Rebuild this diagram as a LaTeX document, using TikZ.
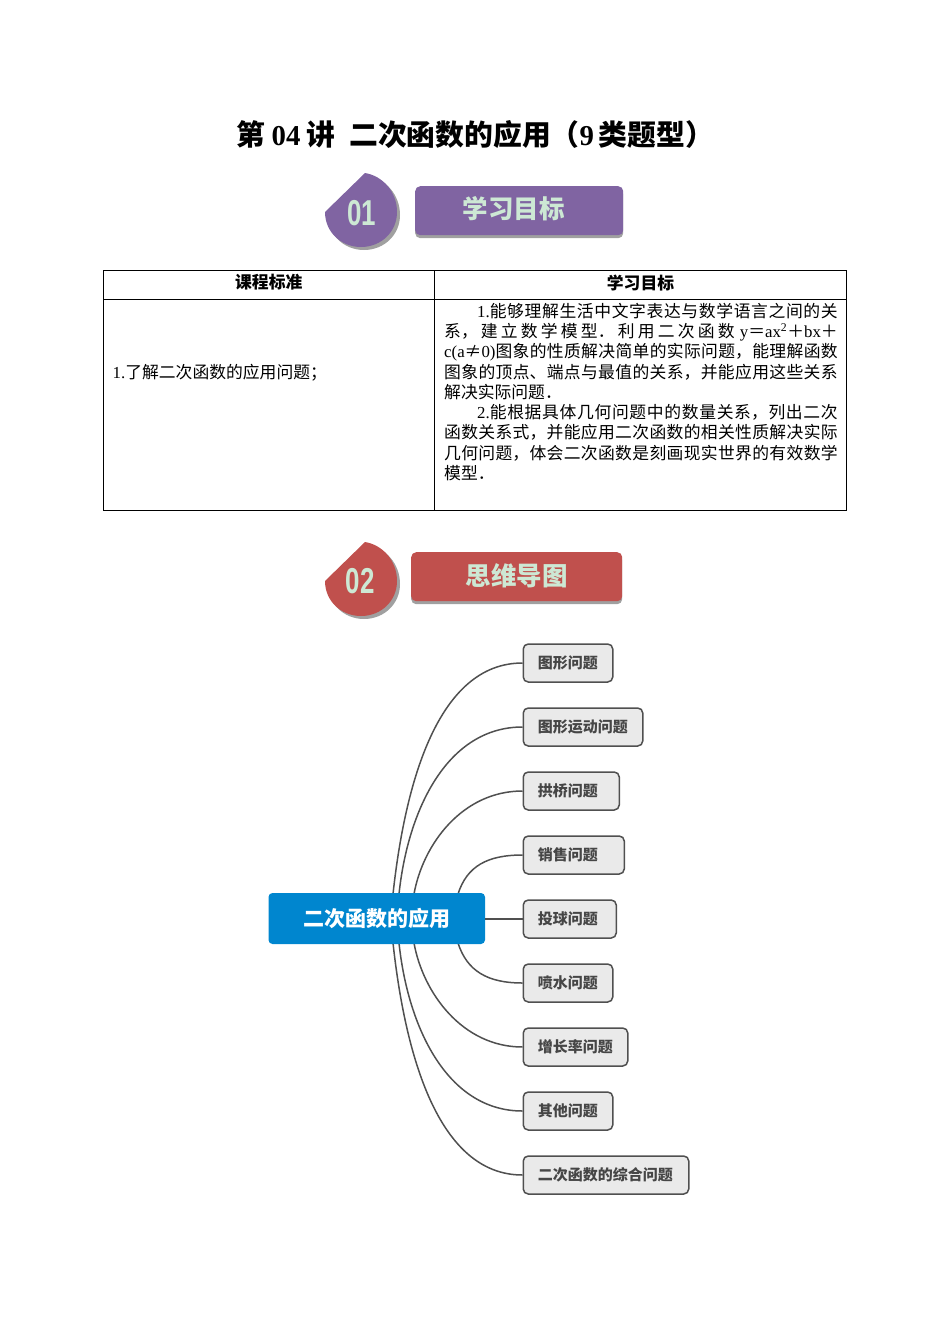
\documentclass[tikz,border=0pt]{standalone}
\usepackage{fontspec}
\usepackage{xcolor}
\usetikzlibrary{positioning, shadows}
\setmainfont{Noto Sans CJK SC}
\newfontfamily\latinfont{Liberation Serif}
\newfontfamily\numfont{Liberation Sans}
\XeTeXlinebreaklocale "zh"
\XeTeXlinebreakskip=0pt plus 4pt
\newcommand{\la}[1]{{\latinfont #1}}
\definecolor{goalpurple}{RGB}{128,100,162}
\definecolor{mapred}{RGB}{192,80,77}
\definecolor{paleink}{RGB}{205,232,212}
\definecolor{shadegray}{RGB}{160,160,160}
\definecolor{rootblue}{RGB}{0,134,207}
\definecolor{topicfill}{RGB}{234,234,234}
\definecolor{topicline}{RGB}{80,80,80}
\definecolor{topicink}{RGB}{70,70,70}
\tikzset{
  cell/.style={rectangle, draw=black, line width=0.9pt, inner sep=0pt, outer sep=0pt,
    anchor=north west},
  headcell/.style={cell, minimum height=29.5pt, font=\fontsize{16.8}{20}\selectfont\bfseries},
  bodytext/.style={font=\fontsize{16.8}{20.25}\selectfont, inner sep=0pt},
  badge/.style={line width=0pt, drop shadow={shadow xshift=3pt, shadow yshift=-3pt,
    opacity=1, fill=shadegray}},
  badgenum/.style={font=\fontsize{36}{36}\selectfont\bfseries\numfont, text=paleink, inner sep=0pt},
  banner/.style={rectangle, rounded corners=5pt, minimum height=49pt, inner sep=0pt,
    anchor=north west, text=paleink, font=\fontsize{25.5}{26}\selectfont\bfseries,
    drop shadow={shadow xshift=0pt, shadow yshift=-3pt, opacity=1, fill=shadegray}},
  rootnode/.style={rectangle, rounded corners=4pt, fill=rootblue, text=white,
    minimum width=216.5pt, minimum height=51pt, inner sep=0pt,
    font=\fontsize{21}{22}\selectfont\bfseries},
  topic/.style={rectangle, rounded corners=5pt, draw=topicline, fill=topicfill, line width=1.5pt,
    anchor=west, minimum height=38pt, inner xsep=14.5pt, inner ysep=0pt, align=left,
    text=topicink, font=\fontsize{15}{16}\selectfont\bfseries},
  link/.style={draw=topicline, line width=1.5pt},
}
\begin{document}
\begin{tikzpicture}[x=1pt, y=-1pt]
  \useasboundingbox (0,0) rectangle (950,1344);
  \node[font=\fontsize{28.8}{30}\selectfont\bfseries, inner sep=0pt] (title) at (475.5,135)
    {第\hspace{6pt}{\latinfont 04}\hspace{6pt}讲\hspace{14pt}二次函数的应用（{\latinfont 9}\,类题型）};
  % section one
  \path[badge, fill=goalpurple] (325,212) -- (365,173)
    .. controls (383,176) and (397,192) .. (397,212)
    .. controls (397,232) and (381,247) .. (361,247)
    .. controls (341,247) and (325,232) .. (325,212) -- cycle;
  \node[badgenum] (num1) at (362,213) {\scalebox{0.72}[1]{01}};
  \node[banner, fill=goalpurple, minimum width=208pt] (goalbar) at (415,186)
    {\hspace*{-11pt}\raisebox{7pt}{学习目标}};
  % table
  \node[headcell, minimum width=331.5pt] (head1) at (103,270)
    {\raisebox{6pt}{课程标准}};
  \node[headcell, minimum width=412pt, right=0pt of head1] (head2)
    {\raisebox{6pt}{学习目标}};
  \node[cell, minimum width=331.5pt, minimum height=210.5pt, below=0pt of head1] (std) {};
  \node[cell, minimum width=412pt, minimum height=210.5pt, below=0pt of head2] (goal) {};
  \node[bodytext, anchor=west] (stdtext) at (112.5,373)
    {\la{1.}了解二次函数的应用问题；};
  \node[bodytext, anchor=north west, text width=393.5pt, align=justify] (goaltext) at (444,303)
    {\hspace*{33pt}\la{1.}能够理解生活中文字表达与数学语言之间的关\linebreak
    系，建立数学模型．利用二次函数 \la{y}＝\la{ax\textsuperscript{2}}＋\la{bx}＋\linebreak
    \la{c(a}≠\la{0)}图象的性质解决简单的实际问题，能理解函数\linebreak
    图象的顶点、端点与最值的关系，并能应用这些关系\linebreak
    解决实际问题．\\
    \hspace*{33pt}\la{2.}能根据具体几何问题中的数量关系，列出二次\linebreak
    函数关系式，并能应用二次函数的相关性质解决实际\linebreak
    几何问题，体会二次函数是刻画现实世界的有效数学\linebreak
    模型．};
  % section two
  \path[badge, fill=mapred] (325,581) -- (365,542)
    .. controls (383,545) and (397,561) .. (397,581)
    .. controls (397,601) and (381,616) .. (361,616)
    .. controls (341,616) and (325,601) .. (325,581) -- cycle;
  \node[badgenum] (num2) at (360,581) {\scalebox{0.72}[1]{02}};
  \node[banner, fill=mapred, minimum width=211pt] (mapbar) at (411,552)
    {\raisebox{5pt}{思维导图}};
  % mind map
  \node[topic, text width=60.5pt] (t1) at (522.5,663) {图形问题};
  \node[topic, text width=90.5pt] (t2) at (522.5,727) {图形运动问题};
  \node[topic, text width=67pt] (t3) at (522.5,791) {拱桥问题};
  \node[topic, text width=72pt] (t4) at (522.5,855) {销售问题};
  \node[topic, text width=64pt] (t5) at (522.5,919) {投球问题};
  \node[topic, text width=60.5pt] (t6) at (522.5,983) {喷水问题};
  \node[topic, text width=75.5pt] (t7) at (522.5,1047) {增长率问题};
  \node[topic, text width=60.5pt] (t8) at (522.5,1111) {其他问题};
  \node[topic, text width=136.5pt] (t9) at (522.5,1175) {二次函数的综合问题};
  \coordinate (up1) at (393,894);
  \coordinate (up2) at (399,894);
  \coordinate (up3) at (414,894);
  \coordinate (up4) at (458,894);
  \coordinate (dn1) at (393,943);
  \coordinate (dn2) at (399,943);
  \coordinate (dn3) at (414,943);
  \coordinate (dn4) at (458,943);
  \draw[link] (up1) .. controls +(12,-110) and +(-85,0) .. (t1.west);
  \draw[link] (up2) .. controls +(9,-85) and +(-75,0) .. (t2.west);
  \draw[link] (up3) .. controls +(9,-50) and +(-60,0) .. (t3.west);
  \draw[link] (up4) .. controls +(9,-28) and +(-35,0) .. (t4.west);
  \draw[link] (dn4) .. controls +(9,28) and +(-35,0) .. (t6.west);
  \draw[link] (dn3) .. controls +(9,50) and +(-60,0) .. (t7.west);
  \draw[link] (dn2) .. controls +(9,85) and +(-75,0) .. (t8.west);
  \draw[link] (dn1) .. controls +(12,110) and +(-85,0) .. (t9.west);
  \node[rootnode] (root) at (376.75,918.5) {二次函数的应用};
  \draw[link] (root.east |- t5.west) -- (t5.west);
\end{tikzpicture}
\end{document}
